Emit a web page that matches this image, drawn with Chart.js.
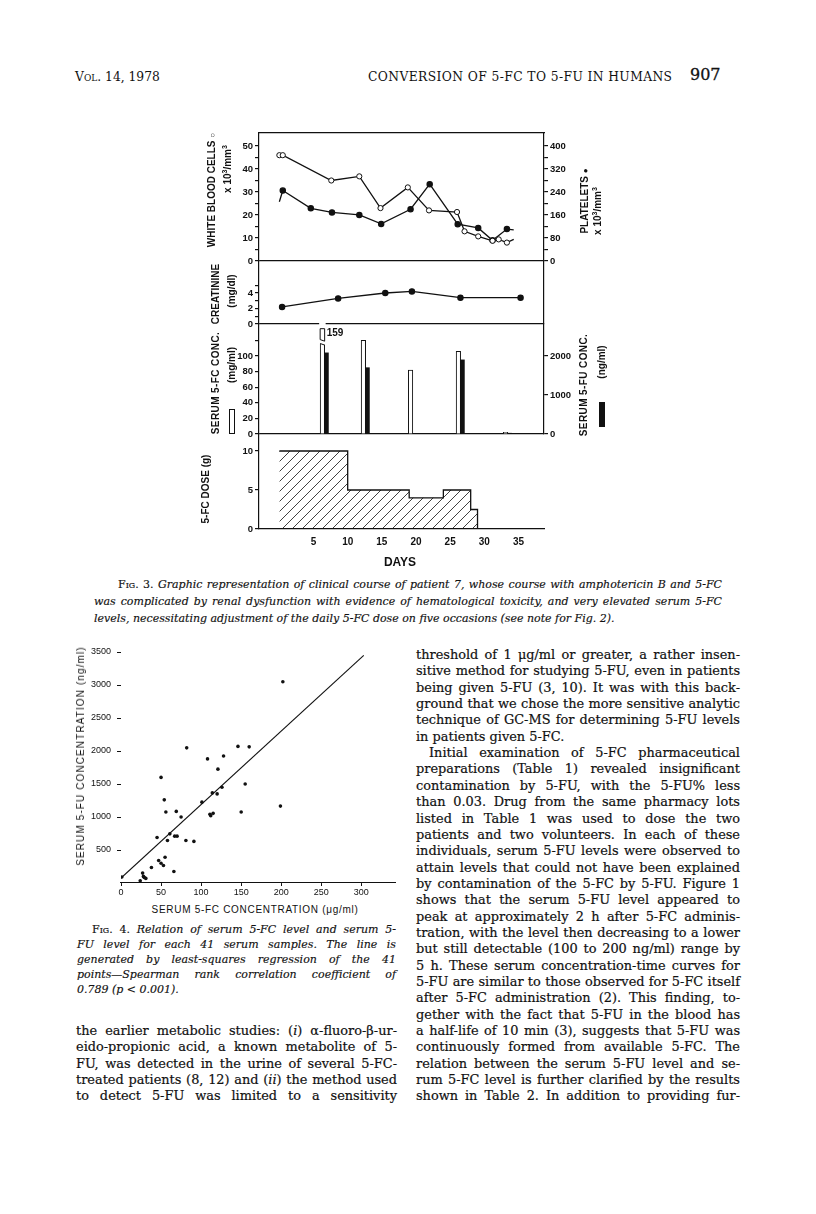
<!DOCTYPE html>
<html>
<head>
<meta charset="utf-8">
<script src="https://cdn.jsdelivr.net/npm/chart.js@4.4.0/dist/chart.umd.min.js"></script>
<style>
  body { margin: 0; background: #fff; }
  #page { position: relative; width: 816px; height: 1214px; overflow: hidden; color: #111; font-family: "DejaVu Serif", serif; }
  .ln { position: absolute; white-space: nowrap; line-height: 16px; height: 16px; }
  .body { font-size: 12.9px; -webkit-text-stroke: 0.2px #111; }
  .cap { font-size: 11px; font-style: italic; -webkit-text-stroke: 0.15px #111; }
  .head { font-size: 12.3px; }
  .pgno { font-size: 16px; -webkit-text-stroke: 0.3px #111; }
  .sc { font-style: normal; font-variant: small-caps; }
  .rot { position: absolute; white-space: nowrap; transform: translate(-50%, -50%) rotate(-90deg); font-family: "Liberation Sans", Arial, sans-serif; font-weight: bold; font-size: 10px; line-height: 1; }
  .lbl { position: absolute; white-space: nowrap; transform: translate(-50%, -50%); font-family: "Liberation Sans", Arial, sans-serif; line-height: 1; }
  .rot sup { font-size: 7px; }
  canvas { position: absolute; }
</style>
</head>
<body>
<div id="page">
  <canvas id="fig3" width="430" height="454" style="left:190px;top:121px;"></canvas>
  <canvas id="fig4" width="345" height="258" style="left:60px;top:640px;"></canvas>

  <!-- axis titles, Fig. 3 -->
  <div class="rot" style="left:212px;top:190px;">WHITE BLOOD CELLS <span style="font-size:8px">○</span></div>
  <div class="rot" style="left:227px;top:169px;">x 10<sup>3</sup>/mm<sup>3</sup></div>
  <div class="rot" style="left:216px;top:294px;">CREATININE</div>
  <div class="rot" style="left:232px;top:291px;">(mg/dl)</div>
  <div class="rot" style="left:216px;top:383px;letter-spacing:0.4px;">SERUM 5-FC CONC.</div>
  <div class="rot" style="left:232px;top:365px;">(mg/ml)</div>
  <div style="position:absolute;left:229px;top:409px;width:4px;height:23px;border:1px solid #111;"></div>
  <div class="rot" style="left:206px;top:489px;">5-FC DOSE (g)</div>
  <div class="rot" style="left:585px;top:201px;">PLATELETS <span style="font-size:8px">●</span></div>
  <div class="rot" style="left:597px;top:211px;">x 10<sup>3</sup>/mm<sup>3</sup></div>
  <div class="rot" style="left:584px;top:385px;letter-spacing:0.4px;">SERUM 5-FU CONC.</div>
  <div class="rot" style="left:602px;top:362px;">(ng/ml)</div>
  <div style="position:absolute;left:599px;top:402px;width:6px;height:25px;background:#111;"></div>
  <div class="lbl" style="left:400px;top:562px;font-weight:bold;font-size:12px;">DAYS</div>

  <!-- axis titles, Fig. 4 -->
  <div class="rot" style="left:81px;top:756px;font-weight:normal;font-size:10px;letter-spacing:1.1px;">SERUM 5-FU CONCENTRATION (ng/ml)</div>
  <div class="lbl" style="left:255px;top:910px;font-size:10px;letter-spacing:0.7px;">SERUM 5-FC CONCENTRATION (μg/ml)</div>
</div>

<script>
// ---------- Fig. 3 data ----------
const wbcDays        = [0, 0.5, 7.6, 11.7, 14.8, 18.8, 21.9, 26.0, 27.1, 29.1, 31.2, 32.1, 33.3, 34.3];
const wbcCounts      = [46, 46, 35, 36.8, 23, 32, 22, 21.3, 12.9, 10.7, 8.8, 9.4, 8.0, 9.4];
const plateletDays   = [0, 0.5, 4.6, 7.7, 11.7, 14.9, 19.2, 22.0, 26.1, 29.1, 31.2, 33.3, 34.3];
const plateletCounts = [206, 245, 183, 169, 160, 129, 180, 267, 128, 115, 72, 111, 108];
const creatDays      = [0.4, 8.6, 15.5, 19.4, 26.5, 35.3];
const creatValues    = [2.2, 3.3, 4.0, 4.2, 3.4, 3.4];
const fcDays         = [6.3, 12.3, 19.2, 26.2, 33.1];
const fcValues       = [159, 120, 82, 106, 2];
const fuDays         = [6.85, 12.85, 26.75, 33.65];
const fuValues       = [2080, 1700, 1900, 20];
const doseDays       = [0, 10, 19, 24, 28, 29];
const doseValues     = [10, 5, 4, 5, 2.5, 0];

const dayTicks       = [5, 10, 15, 20, 25, 30, 35];
const wbcTicks       = [0, 5, 10, 15, 20, 25, 30, 35, 40, 45, 50];
const wbcLabels      = [0, 10, 20, 30, 40, 50];
const plateletTicks  = [0, 40, 80, 120, 160, 200, 240, 280, 320, 360, 400];
const plateletLabels = [0, 80, 160, 240, 320, 400];
const creatTicks     = [0, 1, 2, 3, 4, 5];
const creatLabels    = [0, 2, 4];
const fcTicks        = [0, 20, 40, 60, 80, 100, 120];
const fcLabels       = [0, 20, 40, 60, 80, 100];
const fuTicks        = [0, 1000, 2000];
const doseTicks      = [0, 5, 10];

// ---------- Fig. 4 data ----------
const fcLevel = [202, 82, 146, 160, 108, 128, 121, 50, 155, 126, 114, 120, 54, 101, 56, 69, 150, 199, 75, 112,
                 115, 111, 45, 61, 67, 70, 58, 81, 91, 47, 55, 50, 53, 38, 66, 27, 28, 31, 29, 24, 1];
const fuLevel = [3050, 2048, 2070, 2063, 1880, 1925, 1725, 1600, 1500, 1450, 1365, 1350, 1260, 1225, 1075, 1085, 1075, 1165, 1000, 1020,
                 1055, 1040, 690, 745, 710, 710, 645, 645, 630, 340, 390, 300, 265, 235, 175, 150, 100, 70, 85, 35, 90];
const fitLineX = [0, 303];
const fitLineY = [75, 3449];
const fcTicks4 = [0, 50, 100, 150, 200, 250, 300];
const fuTicks4 = [500, 1000, 1500, 2000, 2500, 3000, 3500];

// ---------- text ----------
const rightColLines = [
  'threshold of 1 μg/ml or greater, a rather insen-',
  'sitive method for studying 5-FU, even in patients',
  'being given 5-FU (3, 10). It was with this back-',
  'ground that we chose the more sensitive analytic',
  'technique of GC-MS for determining 5-FU levels',
  'in patients given 5-FC.',
  'Initial examination of 5-FC pharmaceutical',
  'preparations (Table 1) revealed insignificant',
  'contamination by 5-FU, with the 5-FU% less',
  'than 0.03. Drug from the same pharmacy lots',
  'listed in Table 1 was used to dose the two',
  'patients and two volunteers. In each of these',
  'individuals, serum 5-FU levels were observed to',
  'attain levels that could not have been explained',
  'by contamination of the 5-FC by 5-FU. Figure 1',
  'shows that the serum 5-FU level appeared to',
  'peak at approximately 2 h after 5-FC adminis-',
  'tration, with the level then decreasing to a lower',
  'but still detectable (100 to 200 ng/ml) range by',
  '5 h. These serum concentration-time curves for',
  '5-FU are similar to those observed for 5-FC itself',
  'after 5-FC administration (2). This finding, to-',
  'gether with the fact that 5-FU in the blood has',
  'a half-life of 10 min (3), suggests that 5-FU was',
  'continuously formed from available 5-FC. The',
  'relation between the serum 5-FU level and se-',
  'rum 5-FC level is further clarified by the results',
  'shown in Table 2. In addition to providing fur-'
];
const leftColLines = [
  'the earlier metabolic studies: (<i>i</i>) α-fluoro-β-ur-',
  'eido-propionic acid, a known metabolite of 5-',
  'FU, was detected in the urine of several 5-FC-',
  'treated patients (8, 12) and (<i>ii</i>) the method used',
  'to detect 5-FU was limited to a sensitivity'
];
const fig4Caption = [
  '<span class="sc">Fig. 4.</span> Relation of serum 5-FC level and serum 5-',
  'FU level for each 41 serum samples. The line is',
  'generated by least-squares regression of the 41',
  'points—Spearman rank correlation coefficient of',
  '0.789 (<i>p</i> &lt; 0.001).'
];
const fig3Caption = [
  '<span class="sc">Fig. 3.</span> Graphic representation of clinical course of patient 7, whose course with amphotericin B and 5-FC',
  'was complicated by renal dysfunction with evidence of hematological toxicity, and very elevated serum 5-FC',
  'levels, necessitating adjustment of the daily 5-FC dose on five occasions (see note for Fig. 2).'
];

const page = document.getElementById('page');
function addLine(html, cls, left, top, width, mode) {
  const el = document.createElement('div');
  el.className = 'ln ' + cls;
  el.innerHTML = html;
  el.style.left = left + 'px';
  el.style.top = top + 'px';
  el.style.width = width + 'px';
  page.appendChild(el);
  const r = document.createRange();
  r.selectNodeContents(el);
  const nat = r.getBoundingClientRect().width;
  const n = Math.max(el.textContent.length - 1, 1);
  if (mode === 'exact' || nat > width) el.style.letterSpacing = ((width - nat) / n).toFixed(3) + 'px';
  if (mode === 'justify') { el.style.textAlign = 'justify'; el.style.textAlignLast = 'justify'; }
  return el;
}
addLine('<span class="sc">Vol.</span> 14, 1978', 'head', 75, 69, 120, '');
addLine('CONVERSION OF 5-FC TO 5-FU IN HUMANS', 'head', 368, 69, 304, 'exact');
addLine('907', 'pgno', 690, 67, 40, '');

rightColLines.forEach((t, i) => {
  const indent = i === 6 ? 13 : 0;
  addLine(t, 'body', 416 + indent, 655 - 8 + i * 16.35, 324 - indent, i !== 5 ? 'justify' : '');
});
leftColLines.forEach((t, i) => addLine(t, 'body', 76, 1031 - 8 + i * 16.35, 321, 'justify'));
fig4Caption.forEach((t, i) => {
  const indent = i === 0 ? 15 : 0;
  addLine(t, 'cap', 77 + indent, 930 - 8 + i * 15, 319 - indent, i < 4 ? 'justify' : '');
});
fig3Caption.forEach((t, i) => {
  const left = i === 0 ? 118 : 94;
  addLine(t, 'cap', left, 585 - 8 + i * 17, 722 - left, i < 2 ? 'justify' : '');
});

// ---------- charts ----------
const ink = '#111';
Chart.defaults.font.family = '"Liberation Sans", Arial, sans-serif';
Chart.defaults.color = ink;
const pts = (xs, ys) => xs.map((x, i) => ({x: x, y: ys[i]}));

function stackAxis(o) {
  return {
    type: 'linear', position: o.pos, stack: o.pos, stackWeight: o.sw, weight: o.w,
    min: 0, max: o.max, z: o.z || 0,
    afterBuildTicks: s => { s.ticks = (o.ticks || []).map(v => ({value: v})); },
    afterFit: s => { s.width = o.pos === 'left' ? 69 : 76; },
    border: {display: o.border !== false, color: ink, width: 1.2},
    grid: {
      drawOnChartArea: !!o.zeroLine, drawTicks: true, tickLength: 4, tickColor: ink, tickWidth: 1.2, lineWidth: 1.2,
      color: c => (o.zeroLine && c.tick && c.tick.value === 0) ? ink : 'rgba(0,0,0,0)'
    },
    ticks: {
      display: !!o.labels, autoSkip: false, padding: 2, color: ink, font: {size: 9.5, weight: 'bold'},
      callback: v => (o.labels && o.labels.includes(v)) ? String(v) : ''
    }
  };
}

function hatch() {
  const c = document.createElement('canvas');
  c.width = 10; c.height = 10;
  const g = c.getContext('2d');
  g.strokeStyle = ink; g.lineWidth = 0.8;
  g.beginPath();
  g.moveTo(0, 10); g.lineTo(10, 0);
  g.moveTo(-1, 1); g.lineTo(1, -1);
  g.moveTo(9, 11); g.lineTo(11, 9);
  g.stroke();
  return g.createPattern(c, 'repeat');
}

// values drawn through a broken bar (data units on the 5-FC axis)
const breakLow = 115, breakHigh = 120, breakTop = 135;
const brokenBar = {
  id: 'brokenBar',
  afterDatasetsDraw(chart) {
    const ys = chart.scales.yFc, ctx = chart.ctx;
    const idx = chart.data.datasets.findIndex(d => d.label === 'Serum 5-FC');
    const meta = chart.getDatasetMeta(idx);
    fcValues.forEach((v, i) => {
      if (v <= ys.max) return;
      const bar = meta.data[i];
      const w = bar.width, x0 = bar.x - w / 2, x1 = bar.x + w / 2;
      const lowL = ys.getPixelForValue(breakLow + 1), lowR = ys.getPixelForValue(breakLow - 1);
      const hiL = ys.getPixelForValue(breakHigh + 1), hiR = ys.getPixelForValue(breakHigh - 1);
      const top = ys.getPixelForValue(breakTop);
      ctx.save();
      ctx.fillStyle = '#fff';
      ctx.beginPath();
      ctx.moveTo(x0 - 1, bar.y - 1); ctx.lineTo(x1 + 1, bar.y - 1);
      ctx.lineTo(x1 + 1, lowR); ctx.lineTo(x0 - 1, lowL); ctx.closePath();
      ctx.fill();
      ctx.strokeStyle = ink; ctx.lineWidth = 1;
      ctx.beginPath(); ctx.moveTo(x0, lowL); ctx.lineTo(x1, lowR); ctx.stroke();
      ctx.beginPath();
      ctx.moveTo(x0, top); ctx.lineTo(x1, top); ctx.lineTo(x1, hiR); ctx.lineTo(x0, hiL); ctx.closePath();
      ctx.stroke();
      ctx.fillStyle = ink;
      ctx.font = 'bold 10px "Liberation Sans", Arial, sans-serif';
      ctx.textBaseline = 'middle';
      ctx.fillText(String(v), x1 + 2, ys.getPixelForValue((breakHigh + breakTop) / 2 + 2));
      ctx.restore();
    });
  }
};

new Chart(document.getElementById('fig3'), {
  data: {
    datasets: [
      {type: 'line', label: 'White blood cells', yAxisID: 'yWbc', data: pts(wbcDays, wbcCounts),
       borderColor: ink, borderWidth: 1.3, pointRadius: wbcDays.map((d, i) => i === wbcDays.length - 1 ? 0 : 2.6),
       pointBackgroundColor: '#fff', pointBorderColor: ink, pointBorderWidth: 1},
      {type: 'line', label: 'Platelets', yAxisID: 'yPlt', data: pts(plateletDays, plateletCounts),
       borderColor: ink, borderWidth: 1.3,
       pointRadius: plateletDays.map((d, i) => (i === 0 || i === plateletDays.length - 1) ? 0 : 2.6),
       pointBackgroundColor: ink, pointBorderColor: ink},
      {type: 'line', label: 'Creatinine', yAxisID: 'yCr', data: pts(creatDays, creatValues),
       borderColor: ink, borderWidth: 1.3, pointRadius: 2.6, pointBackgroundColor: ink, pointBorderColor: ink},
      {type: 'bar', label: 'Serum 5-FC', yAxisID: 'yFc', data: pts(fcDays, fcValues), grouped: false,
       barThickness: 4.5, backgroundColor: '#fff', borderColor: ink, borderWidth: 1},
      {type: 'bar', label: 'Serum 5-FU', yAxisID: 'yFu', data: pts(fuDays, fuValues), grouped: false,
       barThickness: 4.5, backgroundColor: ink, borderColor: ink, borderWidth: 0},
      {type: 'line', label: '5-FC dose', yAxisID: 'yDose', data: pts(doseDays, doseValues),
       stepped: true, fill: 'origin', backgroundColor: hatch(), borderColor: ink, borderWidth: 1.3, pointRadius: 0}
    ]
  },
  options: {
    responsive: false, animation: false, events: [],
    layout: {padding: {top: 12, left: 0, right: 0, bottom: 0}},
    plugins: {legend: {display: false}, tooltip: {enabled: false}},
    scales: {
      x: {
        type: 'linear', position: 'bottom', min: 0, max: 35.75,
        afterBuildTicks: s => { s.ticks = dayTicks.map(v => ({value: v})); },
        afterFit: s => { s.height = 46; },
        grid: {drawOnChartArea: false, drawTicks: false, color: 'rgba(0,0,0,0)'},
        border: {display: true, color: ink, width: 1.2},
        ticks: {color: ink, padding: 7, autoSkip: false, maxRotation: 0, font: {size: 10, weight: 'bold'},
                callback: v => String(v)}
      },
      xTop: {
        type: 'linear', position: 'top', min: 0, max: 35.75,
        afterBuildTicks: s => { s.ticks = []; },
        afterFit: s => { s.height = 0; },
        grid: {drawOnChartArea: false, drawTicks: false},
        border: {display: true, color: ink, width: 1.2},
        ticks: {display: false}
      },
      yWbc:  stackAxis({pos: 'left', sw: 128, w: 4, max: 55.65, ticks: wbcTicks, labels: wbcLabels, zeroLine: true}),
      yCr:   stackAxis({pos: 'left', sw: 63,  w: 3, max: 8.13, ticks: creatTicks, labels: creatLabels, zeroLine: true, z: 1}),
      yFc:   stackAxis({pos: 'left', sw: 110, w: 2, max: 141, ticks: fcTicks, labels: fcLabels, zeroLine: true}),
      yDose: stackAxis({pos: 'left', sw: 95,  w: 1, max: 12.18, ticks: doseTicks, labels: doseTicks}),
      yPlt:  stackAxis({pos: 'right', sw: 128, w: 1, max: 445, ticks: plateletTicks, labels: plateletLabels}),
      yCrR:  stackAxis({pos: 'right', sw: 63,  w: 2, max: 1}),
      yFu:   stackAxis({pos: 'right', sw: 110, w: 3, max: 2820, ticks: fuTicks, labels: fuTicks}),
      yDoseR: stackAxis({pos: 'right', sw: 95, w: 4, max: 1, border: false})
    }
  },
  plugins: [brokenBar]
});

new Chart(document.getElementById('fig4'), {
  data: {
    datasets: [
      {type: 'scatter', label: 'Samples', data: pts(fcLevel, fuLevel),
       pointRadius: 1.8, pointBackgroundColor: ink, pointBorderColor: ink, pointBorderWidth: 0},
      {type: 'line', label: 'Least-squares fit', data: pts(fitLineX, fitLineY),
       borderColor: ink, borderWidth: 1.1, pointRadius: 0}
    ]
  },
  options: {
    responsive: false, animation: false, events: [],
    layout: {padding: {top: 12, right: 10, left: 0, bottom: 0}},
    plugins: {legend: {display: false}, tooltip: {enabled: false}},
    scales: {
      x: {
        type: 'linear', min: 0, max: 342,
        afterBuildTicks: s => { s.ticks = fcTicks4.map(v => ({value: v})); },
        afterFit: s => { s.height = 15; },
        grid: {drawOnChartArea: false, tickLength: 3, tickColor: ink},
        border: {display: true, color: ink, width: 1.1},
        ticks: {color: ink, padding: 1, autoSkip: false, maxRotation: 0, font: {size: 9}, callback: v => String(v)}
      },
      y: {
        type: 'linear', min: 0, max: 3500,
        afterBuildTicks: s => { s.ticks = fuTicks4.map(v => ({value: v})); },
        afterFit: s => { s.width = 61; },
        grid: {drawOnChartArea: false, tickLength: 4, tickColor: ink},
        border: {display: false},
        ticks: {color: ink, padding: 6, autoSkip: false, font: {size: 9}, callback: v => String(v)}
      }
    }
  }
});
</script>
</body>
</html>
